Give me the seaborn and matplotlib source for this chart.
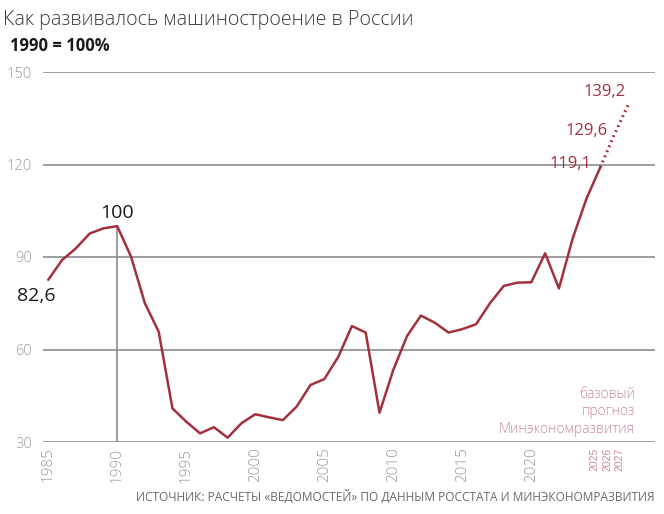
import numpy as np
import pandas as pd
import matplotlib
matplotlib.use("Agg")
import matplotlib.pyplot as plt
import seaborn as sns

# --- data (1990 = 100%) ---
years = list(range(1985, 2026))
values = [82.6, 89.0, 92.8, 97.6, 99.3, 100.0, 90.1, 75.0, 65.8, 40.9,
          36.6, 32.8, 34.8, 31.4, 36.1, 39.0, 38.0, 37.1, 41.5, 48.5,
          50.4, 57.5, 67.6, 65.5, 39.5, 53.4, 64.4, 71.0, 68.7, 65.5,
          66.6, 68.2, 75.0, 80.6, 81.7, 81.8, 91.2, 79.8, 96.1, 109.0,
          119.1]
forecast_years = [2025, 2026, 2027]
forecast_values = [119.1, 129.6, 139.2]
forecast_labels = ["119,1", "129,6", "139,2"]
y_ticks = [30, 60, 90, 120, 150]
x_ticks = [1985, 1990, 1995, 2000, 2005, 2010, 2015, 2020]
fc_tick_labels = ["2025", "2026", "2027"]

RED = "#a3303e"
PINK = "#c98a9a"
GRAY = "#9a9a9a"
GRID = "#8c8c8c"

sns.set_style("white")
plt.rcParams["font.family"] = ["Open Sans", "DejaVu Sans"]

df = pd.DataFrame({"year": years, "value": values})
df_fc = pd.DataFrame({"year": forecast_years, "value": forecast_values})

fig = plt.figure(figsize=(6.64, 5.14), dpi=100)
ax = fig.add_axes([43 / 664, 72 / 514, 612 / 664, 370 / 514])

for v in y_ticks:
    ax.axhline(v, color=GRID, lw=1.2, zorder=1)
ax.plot([1990, 1990], [30, 100], color=GRID, lw=1.2, zorder=1)

sns.lineplot(data=df, x="year", y="value", ax=ax, color=RED, lw=1.8, zorder=3)
sns.lineplot(data=df_fc, x="year", y="value", ax=ax, color=RED, lw=2.2,
             linestyle=(0, (0.6, 1.2)), zorder=3)

ax.set_xlim(1984.62, 2028.96)
ax.set_ylim(30, 150)
for s in ax.spines.values():
    s.set_visible(False)
ax.set_xlabel("")
ax.set_ylabel("")

ax.set_yticks(y_ticks)
ax.set_yticklabels([str(v) for v in y_ticks], color=GRAY, fontsize=10.5, fontweight="light")
ax.tick_params(axis="y", length=0, pad=8)

# the three forecast-year labels are squeezed together in the original
fc_pos = [2024.6, 2025.5, 2026.4]
ax.set_xticks(x_ticks + fc_pos)
ax.set_xticklabels([str(x) for x in x_ticks] + fc_tick_labels, rotation=90,
                   fontsize=11, fontweight="light", color=GRAY)
for lbl in ax.get_xticklabels()[-3:]:
    lbl.set_color(PINK)
    lbl.set_fontsize(7.5)
    lbl.set_family(["Liberation Sans", "DejaVu Sans"])
ax.tick_params(axis="x", length=0, pad=4)

# value annotations
ax.text(1990, 101.5, "100", ha="center", va="bottom", fontsize=14, color="#1a1a1a")
ax.text(1984.1, 77.5, "82,6", ha="center", va="center", fontsize=14, color="#1a1a1a")
offsets = [(-2.2, 1.1), (-2.0, 1.3), (-1.7, 4.3)]
for x, y, t, (dx, dy) in zip(forecast_years, forecast_values, forecast_labels, offsets):
    ax.text(x + dx, y + dy, t, ha="center", va="center", fontsize=12, color=RED)

ax.text(2027.5, 47.8, "базовый\nпрогноз\nМинэкономразвития", ha="right", va="top",
        fontsize=10, color=PINK, fontweight="light", linespacing=1.2)

fig.text(3 / 664, 1 - 20 / 514, "Как развивалось машиностроение в России", ha="left",
         va="center", fontsize=14.2, color="#3a3a3a", fontweight="light")
fig.text(10 / 664, 1 - 46 / 514, "1990 = 100%", ha="left", va="center",
         fontsize=12, fontweight="bold", color="#1a1a1a")
fig.text(655 / 664, 1 - 497 / 514,
         "ИСТОЧНИК: РАСЧЕТЫ «ВЕДОМОСТЕЙ» ПО ДАННЫМ РОССТАТА И МИНЭКОНОМРАЗВИТИЯ",
         ha="right", va="center", fontsize=8.6, color="#6a6a6a",
         family=["Liberation Sans Narrow", "Open Sans", "DejaVu Sans"])

fig.savefig("out.png", dpi=100)
